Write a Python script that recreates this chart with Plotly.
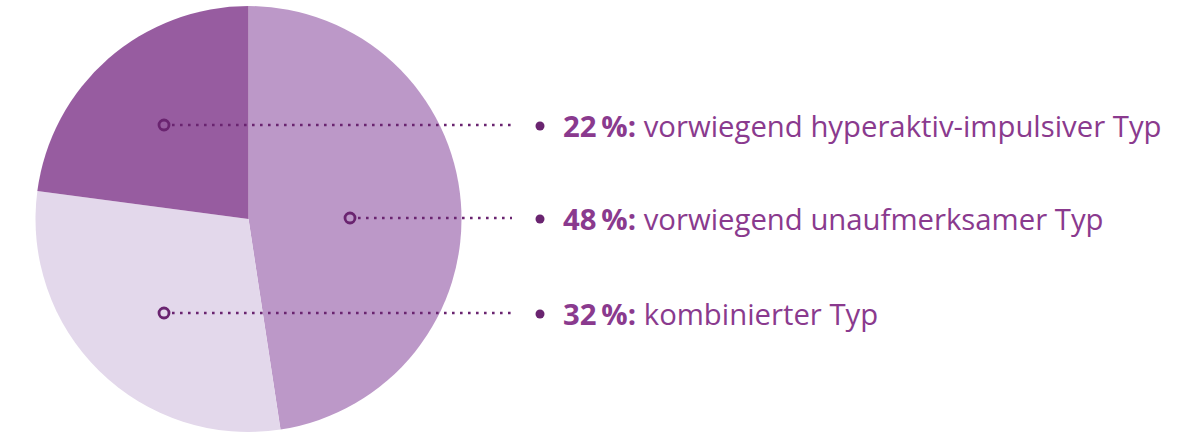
import plotly.graph_objects as go

# ---- data ----
categories = ["vorwiegend unaufmerksamer Typ", "kombinierter Typ", "vorwiegend hyperaktiv-impulsiver Typ"]
slice_values = [47.6, 29.5, 22.9]          # slice sizes as drawn
label_percent = ["48", "32", "22"]          # printed percentages
slice_colors = ["#BC98C8", "#E3D8EB", "#975CA0"]

# legend rows, top to bottom (index into categories)
row_order = [2, 0, 1]

# ---- layout constants (pixels) ----
W, H = 1187, 432
cx, cy, R = 248.5, 219.0, 213.0
row_y = [125, 218, 313]
marker_x = [164, 350, 164]
line_end_x = 512
bullet_x = 540
text_x = 561

dark = "#6A2470"
text_col = "#8A3A8E"
FONT = "Open Sans"
FS = 29.3

fig = go.Figure()

fig.add_trace(go.Pie(
    values=slice_values,
    labels=categories,
    marker=dict(colors=slice_colors, line=dict(width=0)),
    sort=False,
    direction="clockwise",
    rotation=0,
    textinfo="none",
    hoverinfo="label",
    showlegend=False,
    domain=dict(x=[(cx - R) / W, (cx + R) / W], y=[(H - cy - R) / H, (H - cy + R) / H]),
))

shapes = []
for k, i in enumerate(row_order):
    y = row_y[k]
    shapes.append(dict(type="line", xref="x", yref="y", layer="above",
                       x0=marker_x[k] + 8, x1=line_end_x, y0=y, y1=y,
                       line=dict(color=dark, width=2.6, dash="2.6px,5.4px")))
    shapes.append(dict(type="circle", xref="x", yref="y", layer="above",
                       x0=marker_x[k] - 5, x1=marker_x[k] + 5, y0=y - 5, y1=y + 5,
                       line=dict(color=dark, width=2.8), fillcolor="rgba(0,0,0,0)"))
    shapes.append(dict(type="circle", xref="x", yref="y", layer="above",
                       x0=bullet_x - 4.5, x1=bullet_x + 4.5, y0=y - 3.5, y1=y + 5.5,
                       line=dict(width=0), fillcolor=dark))
    fig.add_annotation(x=text_x, y=y + 1, showarrow=False, xanchor="left", yanchor="middle",
                       text=f"<b>{label_percent[i]}\u2009%:</b> {categories[i]}",
                       font=dict(family=FONT, size=FS, color=text_col), xref="x", yref="y")

fig.update_layout(
    width=W, height=H,
    margin=dict(l=0, r=0, t=0, b=0),
    paper_bgcolor="white", plot_bgcolor="rgba(0,0,0,0)",
    xaxis=dict(range=[0, W], visible=False, domain=[0, 1], fixedrange=True),
    yaxis=dict(range=[H, 0], visible=False, domain=[0, 1], fixedrange=True),
    shapes=shapes,
)

fig.write_html("out.html")
